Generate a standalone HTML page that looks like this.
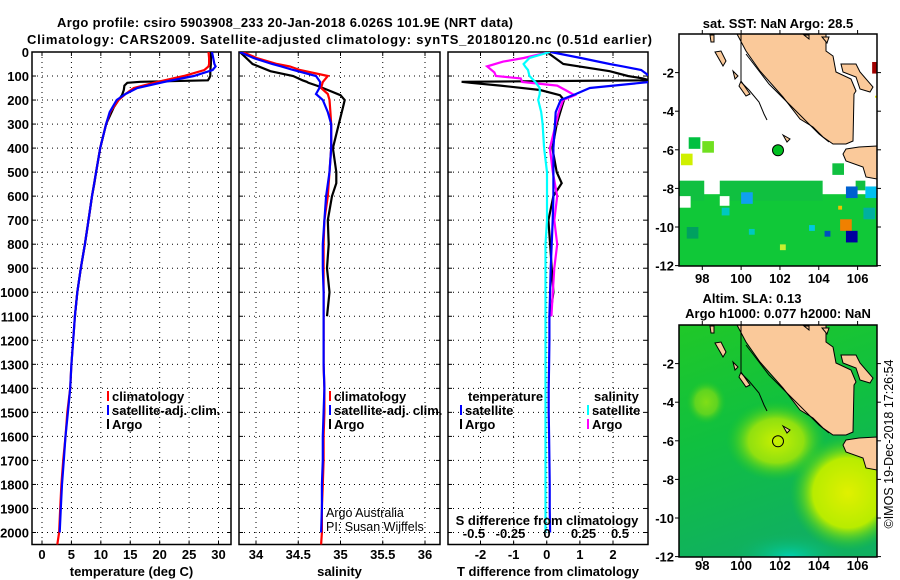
<!DOCTYPE html>
<html><head><meta charset="utf-8"><style>
html,body{margin:0;padding:0;background:#fff;}
svg{display:block;font-family:"Liberation Sans",Arial,sans-serif;}
.b{font-weight:bold;font-size:13px;}
</style></head><body>
<svg id="c" width="900" height="580" viewBox="0 0 900 580" xmlns="http://www.w3.org/2000/svg"></svg>
<script>
// ---- data ----
const depthClim = [0,25,50,60,75,100,125,150,175,200,250,300,400,500,600,700,800,900,1000,1100,1200,1300,1400,1500,1600,1700,1800,1900,2000,2050];
const tempClim = [28.3,28.4,28.4,28.3,27.6,24.1,19.6,15.6,14.2,13.0,11.6,10.9,9.9,9.2,8.5,7.9,7.3,6.6,6.0,5.6,5.3,5.0,4.8,4.3,4.0,3.6,3.3,3.1,2.9,2.6];
const salClim = [33.84,34.01,34.25,34.4,34.52,34.85,34.79,34.77,34.85,34.87,34.88,34.89,34.89,34.87,34.85,34.81,34.80,34.80,34.80,34.80,34.80,34.80,34.81,34.81,34.80,34.80,34.79,34.78,34.78,34.77];
const depthSat = [0,25,50,60,75,100,125,150,175,200,250,300,400,500,600,700,800,900,1000,1100,1200,1300,1400,1500,1600,1700,1800,1900,2000];
const tempSat = [28.9,29.1,29.3,29.5,29.0,25.8,20.7,16.2,14.2,12.7,11.5,10.9,9.9,9.2,8.5,7.9,7.3,6.6,6.0,5.6,5.3,5.0,4.8,4.4,4.0,3.7,3.4,3.2,3.0];
const salSat = [33.81,33.97,34.19,34.3,34.44,34.71,34.76,34.75,34.71,34.79,34.85,34.89,34.89,34.87,34.83,34.81,34.79,34.79,34.80,34.80,34.80,34.80,34.81,34.80,34.79,34.79,34.78,34.78,34.77];
const dTSat = [0.12,1.03,1.9,2.3,2.85,3.1,3.1,1.3,0.88,0.42,0.27,0.25,0.2,0.2,0.2,0.18,0.15,0.12,0.1,0.08,0.08,0.07,0.06,0.06,0.07,0.08,0.09,0.09,0.1];
const dSSat = [0.02,-0.12,-0.16,-0.15,-0.13,-0.12,-0.08,-0.05,-0.05,-0.06,-0.04,-0.03,-0.02,0,0,0,-0.01,-0.01,-0.01,-0.01,-0.01,-0.01,-0.01,-0.01,-0.01,-0.01,-0.01,-0.01,-0.01];
const depthArgo = [0,50,80,100,110,118,124,128,140,158,180,200,230,300,400,500,546,600,700,800,900,1000,1100];
const tempArgo = [28.7,28.7,28.6,28.6,28.4,28.2,16.7,14.5,14.0,13.9,13.6,13.0,12.2,10.9,9.9,9.2,8.9,8.5,7.9,7.3,6.6,6.0,5.6];
const salArgo = [33.81,33.96,34.17,34.44,34.5,34.55,34.6,34.62,34.72,34.85,35.0,35.05,35.03,34.98,34.91,34.95,34.95,34.90,34.85,34.86,34.84,34.87,34.84];
const dTArgo = [0,0.5,1.9,2.45,2.9,3.1,-2.57,-2.3,-1.4,-0.2,0.4,0.52,0.45,0.3,0.17,0.3,0.45,0.2,0.05,0.1,0.15,0.2,0.1];
const depthSArgo = [0,25,40,60,85,100,110,125,140,160,180,200,250,300,400,500,600,700,800,900,1000,1100];
const dSArgo = [0.02,-0.16,-0.3,-0.41,-0.36,-0.35,-0.18,-0.17,0.07,0.13,0.19,0.11,0.08,0.06,0.02,0.04,0.07,0.05,0.07,0.05,0.04,0.03];
const depthTicks = [0,100,200,300,400,500,600,700,800,900,1000,1100,1200,1300,1400,1500,1600,1700,1800,1900,2000];
const tempTicks = [0,5,10,15,20,25,30];
const salTicks = [34,34.5,35,35.5,36];
const salTickLabels = ["34","34.5","35","35.5","36"];
const dTTicks = [-2,-1,0,1,2];
const dSTicks = [-0.5,-0.25,0,0.25,0.5];
const dSTickLabels = ["-0.5","-0.25","0","0.25","0.5"];
const lonTicks = [98,100,102,104,106];
const latTicks = [-2,-4,-6,-8,-10,-12];
const argoLon = 101.9, argoLat = -6.026;

// ---- helpers ----
const NS="http://www.w3.org/2000/svg";
const svg=document.getElementById('c');
function el(tag,attrs,parent,text){const e=document.createElementNS(NS,tag);for(const k in attrs)e.setAttribute(k,attrs[k]);if(text!==undefined)e.textContent=text;(parent||svg).appendChild(e);return e;}
const Y0=52, Y1=544.5;
const yD=d=>Y0+(d/2050)*(Y1-Y0);
function lin(d0,d1,r0,r1){return v=>r0+(v-d0)/(d1-d0)*(r1-r0);}
const P1={x0:32,x1:231}, P2={x0:239,x1:440}, P3={x0:448,x1:648};
const xT=lin(0,30,42,218.5);
const xS=lin(34,36,256,425);
const xdT=lin(-2,2,480.5,613);
const xdS=lin(-0.5,0.5,474,620);

const defs=el('defs',{});
[P1,P2,P3].forEach((p,i)=>{const cp=el('clipPath',{id:'cp'+i},defs);el('rect',{x:p.x0,y:Y0,width:p.x1-p.x0,height:Y1-Y0},cp);});

let t=el('text',{x:57,y:27,class:'b','font-size':'14.5',textLength:'456'},svg,'Argo profile: csiro 5903908_233 20-Jan-2018 6.026S 101.9E (NRT data)');

t=el('text',{x:27,y:44,class:'b','font-size':'14.5',textLength:'625'},svg,'Climatology: CARS2009. Satellite-adjusted climatology: synTS_20180120.nc (0.51d earlier)');


function panel(p,idx,name,vticks,xf,labels,xlabel){
  const g=el('g',{});
  
  depthTicks.forEach(d=>{if(d>0)el('line',{x1:p.x0,x2:p.x1,y1:yD(d),y2:yD(d),stroke:'#000','stroke-width':1,'stroke-dasharray':'1,4'},g);});
  vticks.forEach(v=>{el('line',{x1:xf(v),x2:xf(v),y1:Y0,y2:Y1,stroke:'#000','stroke-width':1,'stroke-dasharray':'1,4'},g);});
  depthTicks.forEach(d=>{el('line',{x1:p.x0,x2:p.x0+4,y1:yD(d),y2:yD(d),stroke:'#000'},g);el('line',{x1:p.x1-4,x2:p.x1,y1:yD(d),y2:yD(d),stroke:'#000'},g);});
  vticks.forEach((v,i)=>{el('line',{x1:xf(v),x2:xf(v),y1:Y1-4,y2:Y1,stroke:'#000'},g);el('line',{x1:xf(v),x2:xf(v),y1:Y0,y2:Y0+4,stroke:'#000'},g);
    if(labels){const tl=el('text',{x:xf(v),y:559,'text-anchor':'middle',class:'b'},g,labels[i]);
      }});
  el('rect',{x:p.x0,y:Y0,width:p.x1-p.x0,height:Y1-Y0,fill:'none',stroke:'#000','stroke-width':1.5},g);
  const xl=el('text',{x:(p.x0+p.x1)/2,y:576,'text-anchor':'middle',class:'b'},g,xlabel);
  
  return g;
}
function series(depths,vals,xf,color,idx,name){
  const pts=depths.map((d,i)=>xf(vals[i]).toFixed(1)+','+yD(d).toFixed(1)).join(' ');
  const pl=el('polyline',{points:pts,fill:'none',stroke:color,'stroke-width':2.2,'clip-path':'url(#cp'+idx+')'});
  
}
depthTicks.forEach(d=>{const tl=el('text',{x:29,y:yD(d)+5,'text-anchor':'end',class:'b'},svg,String(d));
  });

panel(P1,0,'temperature-panel',tempTicks,xT,tempTicks.map(String),'temperature (deg C)');
series(depthArgo,tempArgo,xT,'#000',0,'temp-argo-line');
series(depthClim,tempClim,xT,'#f00',0,'temp-climatology-line');
series(depthSat,tempSat,xT,'#00f',0,'temp-satellite-line');

panel(P2,1,'salinity-panel',salTicks,xS,salTickLabels,'salinity');
series(depthArgo,salArgo,xS,'#000',1,'sal-argo-line');
series(depthClim,salClim,xS,'#f00',1,'sal-climatology-line');
series(depthSat,salSat,xS,'#00f',1,'sal-satellite-line');

panel(P3,2,'difference-panel',dTTicks,xdT,dTTicks.map(String),'T difference from climatology');
series(depthArgo,dTArgo,xdT,'#000',2,'dT-argo-line');
series(depthSArgo,dSArgo,xdS,'#f0f',2,'dS-argo-line');
series(depthSat,dTSat,xdT,'#00f',2,'dT-satellite-line');
series(depthSat,dSSat,xdS,'#0ff',2,'dS-satellite-line');
t=el('text',{x:547,y:525,'text-anchor':'middle',class:'b'},svg,'S difference from climatology');

dSTicks.forEach((v,i)=>{const tl=el('text',{x:xdS(v),y:538,'text-anchor':'middle',class:'b'},svg,dSTickLabels[i]);
  });

function legItem(x,y,color,label,name){
  const g=el('g',{});
  el('rect',{x:x,y:y-10,width:2,height:10,fill:color},g);
  el('text',{x:x+5,y:y,class:'b'},g,label);
}
legItem(107,401,'#f00','climatology','legend-climatology');
legItem(107,415,'#00f','satellite-adj. clim.','legend-satellite');
legItem(107,429,'#000','Argo','legend-argo');
legItem(329,401,'#f00','climatology','legend-sal-climatology');
legItem(329,415,'#00f','satellite-adj. clim.','legend-sal-satellite');
legItem(329,429,'#000','Argo','legend-sal-argo');
t=el('text',{x:468,y:401,class:'b'},svg,'temperature');
t=el('text',{x:594,y:401,class:'b'},svg,'salinity');
legItem(460,415,'#00f','satellite','legend-dT-satellite');
legItem(460,429,'#000','Argo','legend-dT-argo');
legItem(587,415,'#0ff','satellite','legend-dS-satellite');
legItem(587,429,'#f0f','Argo','legend-dS-argo');
t=el('text',{x:326,y:517,'font-size':'12.5'},svg,'Argo Australia');
t=el('text',{x:326,y:531,'font-size':'12.5'},svg,'PI: Susan Wijffels');

// ---- maps ----
const MW=198,MH=232;
const lonX=lin(96.8,107,0,MW);
const latY=lat=>-lat*19.3;
const sumatra=[[58,0],[147,0],[147,17],[154,22],[157,38],[172,45],[177,57],[175,60],[174,107],[167,110],[154,110],[144,103],[134,93],[121,85],[104,63],[81,37],[67,17]];
const java=[[167,115],[180,113],[198,112],[198,145],[187,143],[184,133],[167,127],[164,120]];
const bangka=[[162,30],[177,30],[181,38],[194,53],[191,58],[181,55],[177,43],[164,38]];
const isles=[[[36,18],[42,17],[47,27],[44,32]],[[54,37],[59,42],[56,45]],[[62,47],[71,60],[67,62],[60,52]],[[104,101],[111,105],[108,108]],[[31,1],[35,1],[35,8],[32,8]],[[125,1],[130,1],[130,5]],[[143,3],[150,3],[148,9]]];
function poly(pts,g,fill){el('polygon',{points:pts.map(p=>p.join(',')).join(' '),fill:fill,stroke:'#000','stroke-width':1},g);}
function coast(g){
  poly(sumatra,g,'#fac99a');poly(java,g,'#fac99a');poly(bangka,g,'#fac99a');isles.forEach(i=>poly(i,g,'#fac99a'));
  el('polyline',{points:'62,0 62,48 70,56 80,68 85,80 88,86',fill:'none',stroke:'#000','stroke-width':1},g);
  el('polyline',{points:'67,20 90,50 120,80 140,100 150,108',fill:'none',stroke:'#000','stroke-width':1},g);
}
function mapAxes(g,lblOff){
  el('rect',{x:0,y:0,width:MW,height:MH,fill:'none',stroke:'#000','stroke-width':1.5},g);
  lonTicks.forEach(l=>{el('line',{x1:lonX(l),x2:lonX(l),y1:0,y2:-4,stroke:'#000'},g);el('line',{x1:lonX(l),x2:lonX(l),y1:MH,y2:MH+4,stroke:'#000'},g);
    const tl=el('text',{x:lonX(l),y:MH+lblOff,'text-anchor':'middle',class:'b'},g,String(l));});
  latTicks.forEach(l=>{el('line',{x1:0,x2:-4,y1:latY(l),y2:latY(l),stroke:'#000'},g);el('line',{x1:MW,x2:MW+4,y1:latY(l),y2:latY(l),stroke:'#000'},g);
    const tl=el('text',{x:-5,y:latY(l)+5,'text-anchor':'end',class:'b'},g,String(l));});
}
const m1=el('g',{transform:'translate(679,34)'});

const mc1=el('clipPath',{id:'mc'},defs);el('rect',{x:0,y:0,width:MW,height:MH},mc1);
const m1c=el('g',{'clip-path':'url(#mc)'},m1);
el('rect',{x:0,y:0,width:MW,height:MH,fill:'#fff'},m1c);
el('rect',{x:0,y:latY(-8.3),width:MW,height:MH,fill:'#10c838'},m1c);
el('rect',{x:0,y:latY(-7.6),width:lonX(98.1),height:20,fill:'#10c040'},m1c);
el('rect',{x:lonX(98.9),y:latY(-7.6),width:lonX(104.2)-lonX(98.9),height:20,fill:'#10c040'},m1c);
const sstCells=[[97.3,-5.35,0.6,'#00c040'],[98.0,-5.55,0.6,'#70e020'],[96.9,-6.2,0.6,'#d0f000'],[106.75,-1.45,0.6,'#a00000'],[106.9,-3.2,0.1,'#e8f000'],[104.7,-6.7,0.6,'#10c040'],[105.9,-7.6,0.5,'#10c040'],[105.4,-7.9,0.6,'#0060d0'],[106.4,-7.9,0.6,'#00c0f0'],[96.8,-8.4,0.6,'#fff'],[98.9,-8.4,0.5,'#fff'],[105.0,-8.9,0.2,'#f0c000'],[105.1,-9.6,0.6,'#f08000'],[105.4,-10.2,0.6,'#0000a0'],[104.3,-10.2,0.3,'#0050c0'],[100.0,-8.2,0.6,'#10a0f0'],[99.0,-9.0,0.4,'#00c8c0'],[102.0,-10.9,0.3,'#c8f030'],[97.2,-10.0,0.6,'#00a060'],[103.5,-9.9,0.3,'#00c8e0'],[100.4,-10.1,0.3,'#00c8c0'],[106.3,-9.0,0.6,'#00b0a0']];
sstCells.forEach(c=>{el('rect',{x:lonX(c[0]),y:latY(c[1]),width:c[2]*19.4,height:c[2]*19.3,fill:c[3]},m1c);});
coast(m1c);
el('circle',{cx:lonX(argoLon),cy:latY(argoLat),r:5.5,fill:'#00c020',stroke:'#000'},m1);
mapAxes(m1,17);
t=el('text',{x:778,y:28,'text-anchor':'middle',class:'b'},svg,'sat. SST: NaN Argo: 28.5');

const m2=el('g',{transform:'translate(679,325)'});

const gr=el('radialGradient',{id:'g1'},defs);el('stop',{offset:'0','stop-color':'#c8f000'},gr);el('stop',{offset:'0.55','stop-color':'#90e010'},gr);el('stop',{offset:'1','stop-color':'#20c828','stop-opacity':0},gr);
const gr2=el('radialGradient',{id:'g2'},defs);el('stop',{offset:'0','stop-color':'#e0f000'},gr2);el('stop',{offset:'0.6','stop-color':'#b8ec00'},gr2);el('stop',{offset:'1','stop-color':'#20c828','stop-opacity':0},gr2);
const gr3=el('radialGradient',{id:'g3'},defs);el('stop',{offset:'0','stop-color':'#00d0b0'},gr3);el('stop',{offset:'1','stop-color':'#10b060','stop-opacity':0},gr3);
const gr4=el('linearGradient',{id:'g4',x1:0,y1:0,x2:0.3,y2:1},defs);el('stop',{offset:'0','stop-color':'#20c828'},gr4);el('stop',{offset:'0.5','stop-color':'#10c040'},gr4);el('stop',{offset:'1','stop-color':'#10b060'},gr4);
const m2c=el('g',{'clip-path':'url(#mc)'},m2);
el('rect',{x:0,y:0,width:MW,height:MH,fill:'url(#g4)'},m2c);
el('ellipse',{cx:lonX(102.5),cy:latY(-12),rx:60,ry:25,fill:'url(#g3)'},m2c);
el('ellipse',{cx:lonX(98.2),cy:latY(-4),rx:20,ry:22,fill:'url(#g1)',opacity:0.6},m2c);
el('ellipse',{cx:lonX(101.8),cy:latY(-6),rx:50,ry:40,fill:'url(#g1)'},m2c);
el('ellipse',{cx:lonX(105.5),cy:latY(-8.7),rx:58,ry:58,fill:'url(#g2)'},m2c);
coast(m2c);
el('circle',{cx:lonX(argoLon),cy:latY(argoLat),r:5.5,fill:'none',stroke:'#000'},m2);
mapAxes(m2,13);
t=el('text',{x:752,y:303,'text-anchor':'middle',class:'b'},svg,'Altim. SLA: 0.13');
t=el('text',{x:778,y:318,'text-anchor':'middle',class:'b'},svg,'Argo h1000: 0.077 h2000: NaN');
t=el('text',{x:0,y:0,'text-anchor':'middle','font-size':'12.5',transform:'translate(893,444) rotate(-90)'},svg,'©IMOS 19-Dec-2018 17:26:54');

</script>
</body></html>
